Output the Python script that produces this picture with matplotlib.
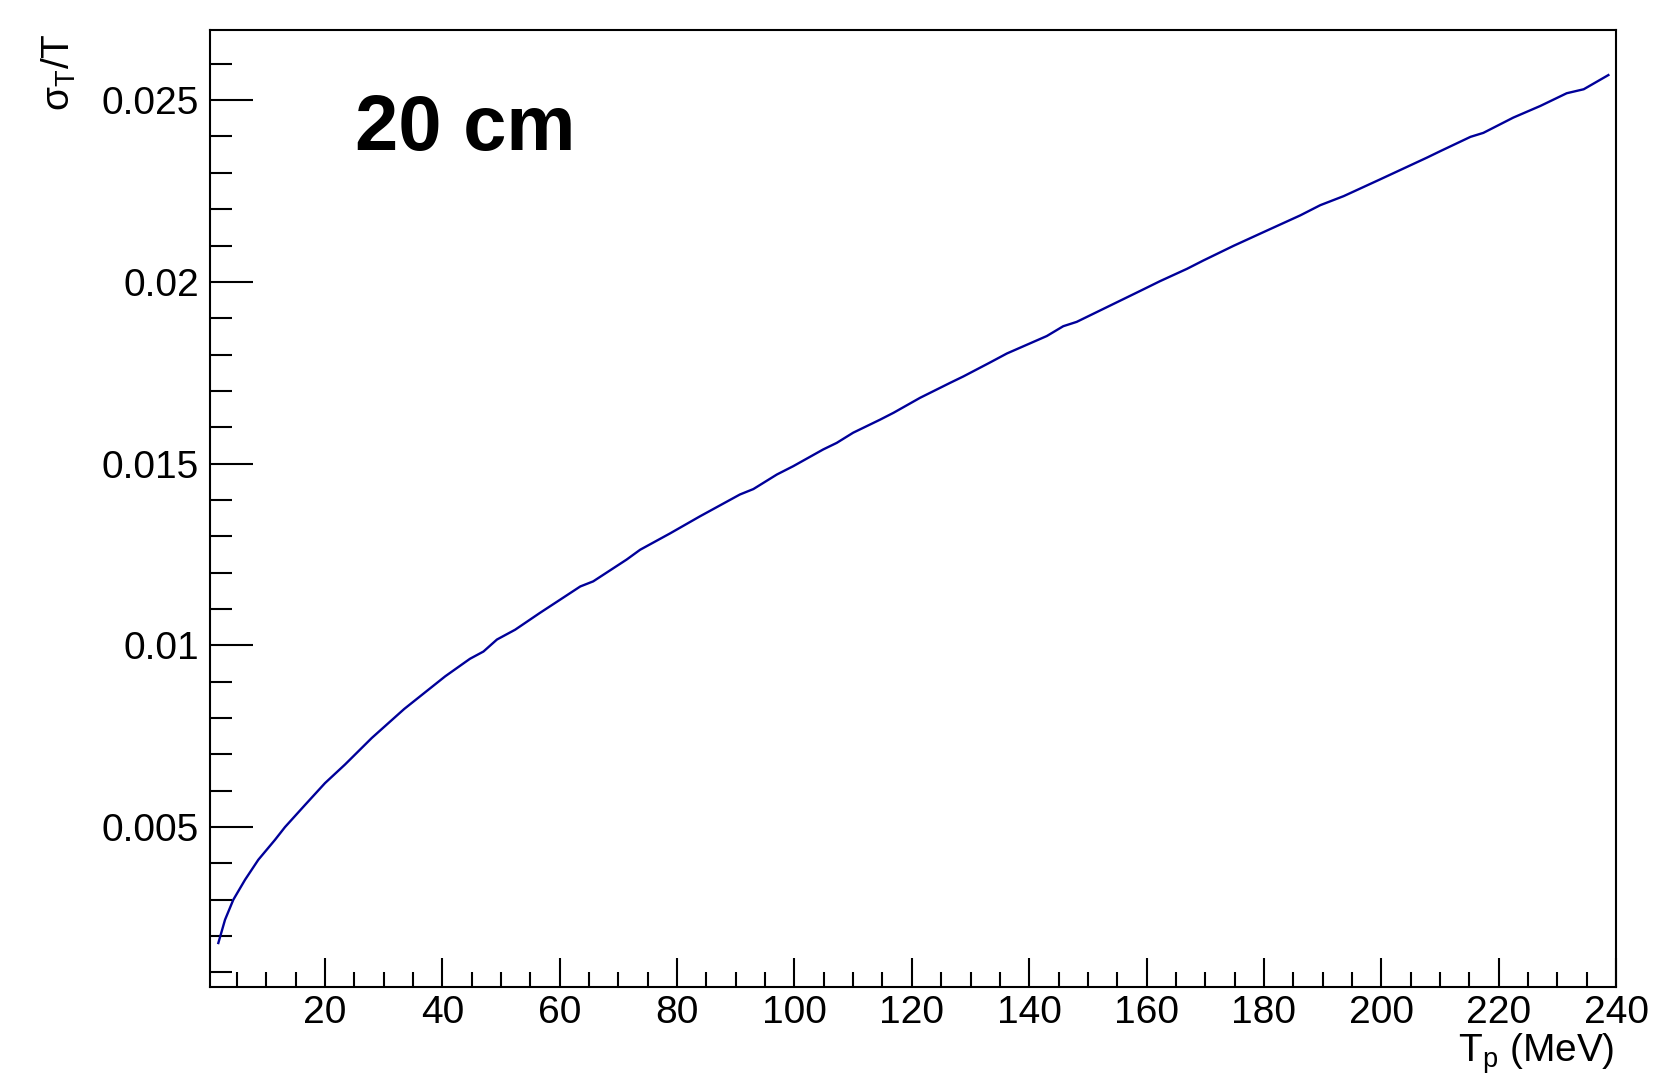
import numpy as np
import matplotlib
matplotlib.use("Agg")
import matplotlib.pyplot as plt
from matplotlib.ticker import MultipleLocator

plt.rcParams['font.family'] = ['Liberation Sans', 'DejaVu Sans']
plt.rcParams['mathtext.fontset'] = 'custom'
plt.rcParams['mathtext.rm'] = 'Liberation Sans'
plt.rcParams['mathtext.it'] = 'Liberation Sans'

# kinetic energy T_p (MeV) and relative resolution sigma_T/T, 20 cm
Tp = [1.82, 2.96, 4.37, 6.37, 8.63, 11.48, 13.18, 16.6, 20.0, 23.4, 27.96,
      33.5, 40.5, 44.7, 47.0, 49.3, 52.4, 56.6, 60.1, 63.5, 65.7, 71.4, 73.7,
      78.8, 83.9, 90.7, 93.0, 97.0, 99.8, 104.9, 107.2, 110.0, 114.6, 116.9,
      121.4, 126.5, 128.8, 133.3, 136.2, 143.0, 145.8, 148.1, 158.9, 162.3,
      166.9, 169.7, 174.8, 179.4, 186.2, 189.6, 193.6, 199.8, 207.8, 210.1,
      215.2, 217.4, 222.5, 227.1, 231.6, 234.5, 238.7]
sigma = [0.00181, 0.00245, 0.0030, 0.00355, 0.0041, 0.00465, 0.005, 0.00561,
         0.00621, 0.00672, 0.00745, 0.00825, 0.00915, 0.00963, 0.00983,
         0.01016, 0.01043, 0.01089, 0.01126, 0.01162, 0.01176, 0.01236,
         0.01263, 0.01308, 0.01355, 0.01415, 0.0143, 0.0147, 0.01493, 0.01539,
         0.01557, 0.01585, 0.01621, 0.0164, 0.01681, 0.01722, 0.0174, 0.01778,
         0.01803, 0.01851, 0.01878, 0.0189, 0.01975, 0.02002, 0.02036, 0.02059,
         0.02099, 0.02133, 0.02183, 0.02211, 0.02236, 0.02282, 0.02342, 0.0236,
         0.02399, 0.0241, 0.02452, 0.02484, 0.02519, 0.0253, 0.02569]

fig = plt.figure(figsize=(16.54, 10.79), dpi=100)
ax = fig.add_axes([210/1654, 1-987/1079, 1406/1654, 957/1079])

ax.plot(Tp, sigma, color="#000099", linewidth=1.7)

ax.set_xlim(0.4, 240)
ax.set_ylim(0.0006, 0.02693)

ax.xaxis.set_minor_locator(MultipleLocator(5))
ax.yaxis.set_minor_locator(MultipleLocator(0.001))
ax.set_xticks(np.arange(20, 241, 20))
ax.set_yticks([0.005, 0.01, 0.015, 0.02, 0.025])
ax.set_yticklabels(["0.005", "0.01", "0.015", "0.02", "0.025"])

ax.tick_params(axis="both", which="both", direction="in", width=1.5,
               labelsize=28, top=False, right=False)
ax.tick_params(axis="x", which="major", length=21, pad=6)
ax.tick_params(axis="x", which="minor", length=11)
ax.tick_params(axis="y", which="major", length=31, pad=8)
ax.tick_params(axis="y", which="minor", length=16)
for s in ax.spines.values():
    s.set_linewidth(1.5)

ax.set_xlabel(r"$\mathregular{T_{p}}$ (MeV)", fontsize=28, loc="right")
ax.xaxis.label.set_va("baseline")
ax.xaxis.set_label_coords(0.9986, -0.0784)
ax.set_ylabel(r"$\mathregular{\sigma_{T}/T}$", fontsize=28, loc="top")
ax.yaxis.set_label_coords(-0.094, 0.997)

ax.text(0.103, 0.8746, "20 cm", transform=ax.transAxes, fontsize=56,
        fontweight="bold", va="baseline", ha="left")

fig.savefig("out.png", dpi=100)
